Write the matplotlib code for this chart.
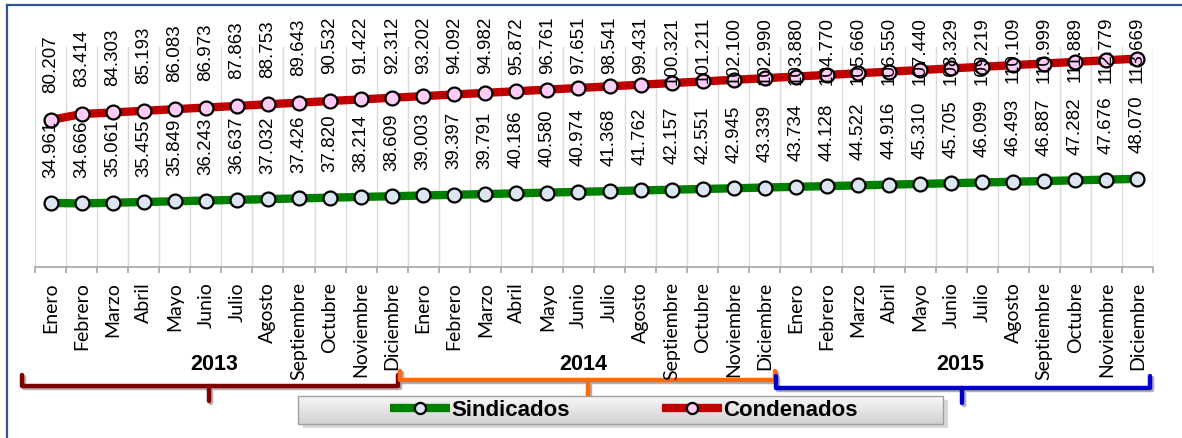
import matplotlib
matplotlib.use("Agg")
import matplotlib.pyplot as plt
import numpy as np
from matplotlib.patches import Rectangle

# data (values in people, shown with '.' thousands separator)
years = ["2013", "2014", "2015"]
months = ["Enero", "Febrero", "Marzo", "Abril", "Mayo", "Junio", "Julio",
          "Agosto", "Septiembre", "Octubre", "Noviembre", "Diciembre"]
sindicados = [34961, 34666, 35061, 35455, 35849, 36243, 36637, 37032, 37426, 37820, 38214, 38609,
              39003, 39397, 39791, 40186, 40580, 40974, 41368, 41762, 42157, 42551, 42945, 43339,
              43734, 44128, 44522, 44916, 45310, 45705, 46099, 46493, 46887, 47282, 47676, 48070]
condenados = [80207, 83414, 84303, 85193, 86083, 86973, 87863, 88753, 89643, 90532, 91422, 92312,
              93202, 94092, 94982, 95872, 96761, 97651, 98541, 99431, 100321, 101211, 102100, 102990,
              103880, 104770, 105660, 106550, 107440, 108329, 109219, 110109, 110999, 111889, 112779, 113669]

labels = months * len(years)
x = np.arange(len(labels))


def fmt(v):
    return "{:,}".format(v).replace(",", ".")


W, H = 1182, 439
fig = plt.figure(figsize=(W / 100, H / 100), dpi=100)

# overlay in pixel coordinates for frame, brackets and legend box
ov = fig.add_axes([0, 0, 1, 1], zorder=0)
ov.set_xlim(0, W)
ov.set_ylim(H, 0)
ov.axis("off")

ax = fig.add_axes([35 / W, (H - 268) / H, (1153 - 35) / W, 220 / H], zorder=2)
ax.patch.set_alpha(0)

ax.plot(x, sindicados, color="#008000", lw=6, solid_capstyle="butt",
        marker="o", ms=10, mfc="#DCE6F2", mec="black", mew=1.6, label="Sindicados", zorder=3)
ax.plot(x, condenados, color="#C00000", lw=6, solid_capstyle="butt",
        marker="o", ms=10, mfc="#FFCCF5", mec="black", mew=1.6, label="Condenados", zorder=3)

ax.set_xlim(-0.5, len(labels) - 0.5)
ax.set_ylim(0, 120000)
ax.set_yticks([])
for s in ["top", "right", "left"]:
    ax.spines[s].set_visible(False)
ax.spines["bottom"].set_color("#A6A6A6")
ax.spines["bottom"].set_linewidth(1.2)

ax.set_xticks(np.arange(-0.5, len(labels)), minor=False)
ax.set_xticklabels([])
ax.tick_params(axis="x", which="major", length=4, color="#A6A6A6", width=1.2)
ax.set_xticks(x, minor=True)
ax.set_xticklabels(labels, minor=True, rotation=90, va="top", ha="center",
                   fontsize=14, family=["Lato", "DejaVu Sans"])
ax.tick_params(axis="x", which="minor", length=0, pad=10)
for b in np.arange(-0.5, len(labels)):
    ax.axvline(b, color="#D9D9D9", lw=1, zorder=1)

# data labels
green_anns = []
red_anns = []
for i in x:
    green_anns.append(ax.annotate(fmt(sindicados[i]), (i, sindicados[i]), xytext=(0, 19),
                                  textcoords="offset points", rotation=90, ha="center", va="bottom",
                                  fontsize=13.5, family="Liberation Sans", zorder=4))
    red_anns.append(ax.annotate(fmt(condenados[i]), (i, condenados[i]), xytext=(0, 20),
                                textcoords="offset points", rotation=90, ha="center", va="bottom",
                                fontsize=13.5, family="Liberation Sans", zorder=4,
                                annotation_clip=False))

# labels hitting the top of the chart area are pushed down
fig.canvas.draw()
renderer = fig.canvas.get_renderer()
top_limit = H - 17
for a in red_anns:
    bb = a.get_window_extent(renderer)
    if bb.y1 > top_limit:
        dx, dy = a.xyann
        a.xyann = (dx, dy - (bb.y1 - top_limit) * 72 / 100)

# frame
ov.plot([7, 7], [H, 6], color="#2F5597", lw=1.6)
ov.plot([7, W], [6, 6], color="#2F5597", lw=1.6)

# year brackets
brackets = [
    (years[0], 22, 398, 376, 387, 209, 402, "#7F0000", 214),
    (years[1], 400, 775, 372, 381, 588, 398, "#FF6A0A", 583),
    (years[2], 776, 1150, 377, 389, 962, 404, "#0000C8", 960),
]
for yr, x0, x1, ytop, ybar, xm, ytick, col, xt in brackets:
    for c, off, z in [("#B0B0B0", 2, 1), (col, 0, 2)]:
        ov.plot([x0 + off, x0 + off, x1 + off, x1 + off], [ytop + off, ybar + off, ybar + off, ytop + off],
                color=c, lw=3.2, solid_joinstyle="round", solid_capstyle="round", zorder=z)
        ov.plot([xm + off, xm + off], [ybar + off, ytick + off], color=c, lw=3.2,
                solid_capstyle="round", zorder=z)
    ov.text(xt, 365, yr, ha="center", va="center", fontsize=15.5, fontweight="bold",
            family=["Liberation Sans Narrow", "Liberation Sans"], zorder=3)

# legend box
ov.add_patch(Rectangle((303, 401), 645, 28, facecolor="#BFBFBF", edgecolor="none", alpha=0.6, zorder=1))
grad = np.linspace(0.97, 0.82, 50).reshape(-1, 1)
ov.imshow(grad, cmap="gray", vmin=0, vmax=1, extent=(298, 943, 425, 397), aspect="auto", zorder=2)
ov.add_patch(Rectangle((298, 397), 645, 28, facecolor="none", edgecolor="#A0A0A0", lw=1, zorder=3))
ov.set_xlim(0, W)
ov.set_ylim(H, 0)

h, l = ax.get_legend_handles_labels()
leg = fig.legend(h, l, loc="center", bbox_to_anchor=(624 / W, 1 - 411 / H), ncol=2, frameon=False,
                 prop={"family": ["Liberation Sans Narrow", "Liberation Sans"], "weight": "bold", "size": 16},
                 handlelength=2.7, handletextpad=0.05, columnspacing=4.15, markerscale=0.8)
leg.set_zorder(5)

fig.savefig("out.png", dpi=100)
